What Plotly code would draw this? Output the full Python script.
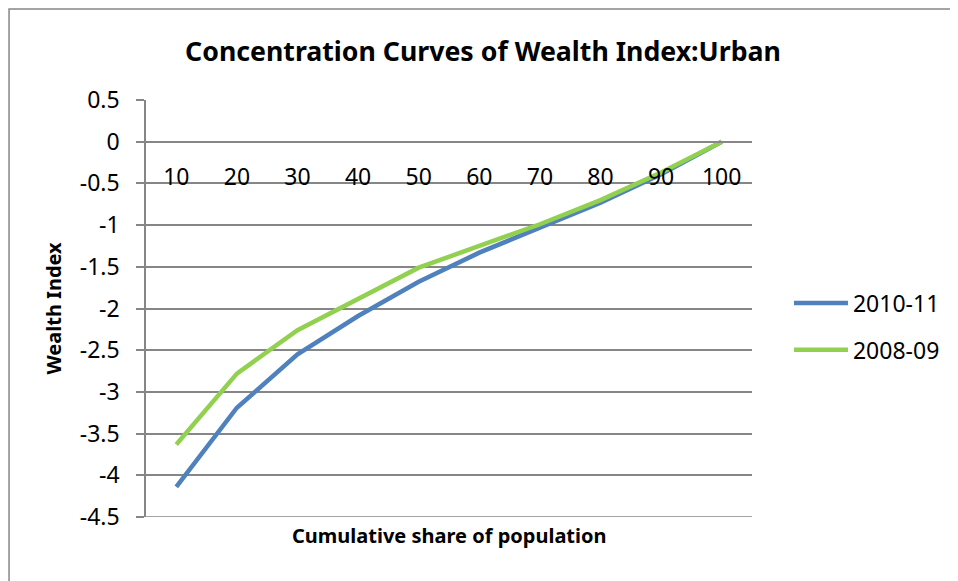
import plotly.graph_objects as go

# cumulative share of population (categories)
shares = ["10", "20", "30", "40", "50", "60", "70", "80", "90", "100"]

# wealth index concentration curve values
wealth_2010_11 = [-4.14, -3.19, -2.55, -2.09, -1.68, -1.33, -1.03, -0.73, -0.39, 0.0]
wealth_2008_09 = [-3.63, -2.78, -2.26, -1.89, -1.51, -1.25, -0.99, -0.70, -0.37, 0.0]

y_ticks = [0.5, 0, -0.5, -1, -1.5, -2, -2.5, -3, -3.5, -4, -4.5]

FONT = "Noto Sans"
GRID = "#868686"

fig = go.Figure()
fig.add_trace(
    go.Scatter(
        x=shares,
        y=wealth_2010_11,
        mode="lines",
        name="2010-11",
        legendgroup="a",
        line=dict(color="#4F81BD", width=4.5),
    )
)
fig.add_trace(
    go.Scatter(
        x=shares,
        y=wealth_2008_09,
        mode="lines",
        name="2008-09",
        legendgroup="b",
        line=dict(color="#92D050", width=4.5),
    )
)

# page body has an 8px margin, so the figure is a little smaller than the window
fig.update_layout(
    width=950,
    height=573,
    margin=dict(l=138, r=206, t=92, b=64),
    paper_bgcolor="white",
    plot_bgcolor="white",
    font=dict(family=FONT, color="black"),
    title=dict(
        text="<b>Concentration Curves of Wealth Index:Urban</b>",
        x=0.5,
        xanchor="center",
        y=0.923,
        yanchor="middle",
        font=dict(size=26.7, family=FONT),
    ),
    showlegend=True,
    legend=dict(
        x=1.061,
        y=0.457,
        xanchor="left",
        yanchor="middle",
        font=dict(size=23),
        itemwidth=54,
        tracegroupgap=14,
        bgcolor="rgba(0,0,0,0)",
    ),
    xaxis=dict(
        type="category",
        anchor="free",
        position=0.9,  # y = 0 on the [-4.5, 0.5] axis
        showline=True,
        linecolor=GRID,
        linewidth=1.5,
        showgrid=False,
        ticks="",
        tickfont=dict(size=23),
        ticklabelstandoff=15,
        range=[-0.5, 9.5],
    ),
    yaxis=dict(
        range=[-4.5, 0.5],
        tickvals=y_ticks,
        ticktext=[str(v) for v in y_ticks],
        showline=True,
        linecolor=GRID,
        linewidth=1.5,
        showgrid=True,
        gridcolor=GRID,
        gridwidth=1.5,
        zeroline=False,
        ticks="outside",
        ticklen=8,
        tickcolor=GRID,
        tickwidth=1.5,
        tickfont=dict(size=23),
        ticklabelstandoff=12,
        title=dict(text="<b>Wealth Index</b>", font=dict(size=20), standoff=13),
    ),
    annotations=[
        dict(
            text="<b>Cumulative share of population</b>",
            xref="paper",
            yref="paper",
            x=0.5,
            y=-0.045,
            xanchor="center",
            yanchor="middle",
            showarrow=False,
            font=dict(size=20),
        )
    ],
    shapes=[
        # bottom gridline at -4.5
        dict(type="line", xref="paper", yref="y", x0=0, x1=1, y0=-4.5, y1=-4.5,
             line=dict(color=GRID, width=1.5)),
        # chart area border
        dict(type="rect", xref="paper", yref="paper", x0=-0.226, x1=2, y0=-1, y1=1.218,
             line=dict(color=GRID, width=1.5), fillcolor="rgba(0,0,0,0)", layer="below"),
    ],
)

fig.write_html("out.html")
